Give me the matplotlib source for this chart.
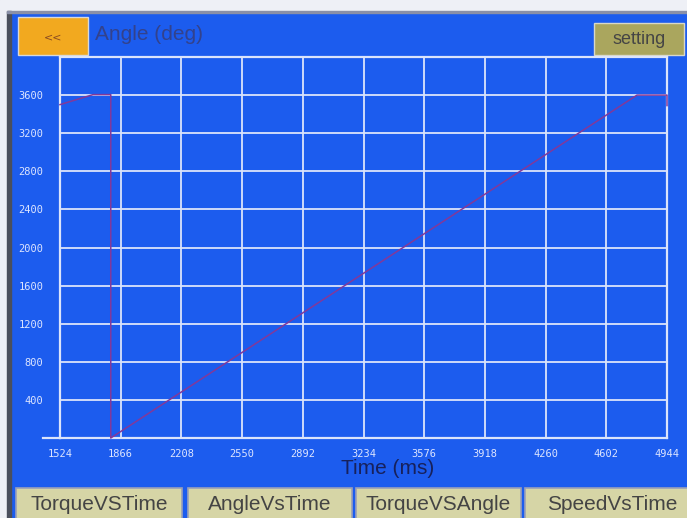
import matplotlib.pyplot as plt
from matplotlib.patches import Rectangle
from matplotlib.lines import Line2D

# data
time_ms = [1524, 1710, 1810, 1810, 4775, 4944, 4944]
angle_deg = [3500, 3605, 3605, 0, 3600, 3600, 3490]
x_ticks = [1524, 1866, 2208, 2550, 2892, 3234, 3576, 3918, 4260, 4602, 4944]
y_ticks = [400, 800, 1200, 1600, 2000, 2400, 2800, 3200, 3600]
buttons = ['TorqueVSTime', 'AngleVsTime', 'TorqueVSAngle', 'SpeedVsTime']

W, H = 687, 518
blue = '#1c5cee'
grid_c = '#dbe4fb'
khaki = '#d6d5a6'

fig = plt.figure(figsize=(W / 100, H / 100), dpi=100)
fig.patch.set_facecolor(blue)

# full-figure axes in pixel coords for the screen furniture
bg = fig.add_axes([0, 0, 1, 1])
bg.set_xlim(0, W)
bg.set_ylim(H, 0)
bg.axis('off')
bg.add_patch(Rectangle((0, 0), W, 11, color='#eef0f6', zorder=1))
bg.add_patch(Rectangle((0, 0), 7, H, color='#eef0f6', zorder=1))
bg.add_patch(Rectangle((7, 11), 4, H, color='#4a4f5c', zorder=2))
bg.add_patch(Rectangle((7, 11), W, 2, color='#8a90a8', zorder=2))

# "<<" and "setting" buttons
bg.add_patch(Rectangle((18, 17), 70, 38, facecolor='#f2a91f', edgecolor='#d8d8d8', lw=1, zorder=3))
bg.text(53, 37, '<<', ha='center', va='center', fontsize=8, color='#8a4b22', family='DejaVu Sans', zorder=4)
bg.add_patch(Rectangle((594, 23), 90, 32, facecolor='#aaa65e', edgecolor='#d8d8c8', lw=1, zorder=3))
bg.text(639, 39, 'setting', ha='center', va='center', fontsize=13, color='#454545', family='Liberation Sans', zorder=4)

bg.text(95, 35, 'Angle (deg)', ha='left', va='center', fontsize=15, color='#33428c', family='Liberation Sans')
bg.text(388, 469, 'Time (ms)', ha='center', va='center', fontsize=15, color='#17215c', family='Liberation Sans')

# bottom tab buttons
bx = [(16, 182), (188, 352), (356, 521), (525, 700)]
for (x0, x1), name in zip(bx, buttons):
    bg.add_patch(Rectangle((x0, 488), x1 - x0, 40, facecolor=khaki, edgecolor='#9aa0b8', lw=1.2, zorder=3))
    bg.text((x0 + x1) / 2, 505, name, ha='center', va='center', fontsize=15,
            color='#444444', family='Liberation Sans', zorder=4)

# plot area
left, right, top, bottom = 60, 667, 57, 438
ax = fig.add_axes([left / W, 1 - bottom / H, (right - left) / W, (bottom - top) / H])
ax.set_facecolor(blue)
ax.set_xlim(x_ticks[0], x_ticks[-1])
ax.set_ylim(0, 4000)
ax.set_xticks(x_ticks)
ax.set_yticks(y_ticks)
ax.grid(True, color=grid_c, lw=1.3)
ax.tick_params(length=0, colors='#dde5ff', labelsize=7.5)
ax.tick_params(axis='x', pad=8)
ax.tick_params(axis='y', pad=12)
for lab in ax.get_xticklabels() + ax.get_yticklabels():
    lab.set_family('DejaVu Sans Mono')
for s in ax.spines.values():
    s.set_color(grid_c)
    s.set_linewidth(1.6)

ax.add_line(Line2D([-0.028, 0], [0, 0], transform=ax.transAxes, color=grid_c, lw=1.6, clip_on=False))

ax.plot(time_ms, angle_deg, color='#82399a', lw=1.1, clip_on=False, zorder=5)

fig.savefig('out.png', dpi=100, facecolor=fig.get_facecolor())
